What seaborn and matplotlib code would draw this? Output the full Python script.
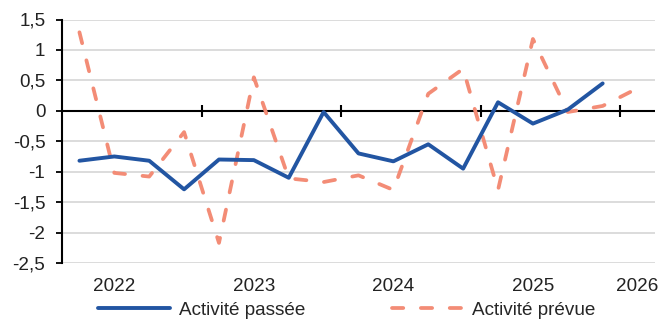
import matplotlib
matplotlib.use("Agg")
import matplotlib.pyplot as plt
import seaborn as sns
import pandas as pd

# Quarterly balances of opinion (Q1 2022 onwards)
quarters = list(range(17))
activite_passee = [-0.82, -0.75, -0.82, -1.29, -0.80, -0.81, -1.10, -0.02,
                   -0.70, -0.83, -0.55, -0.95, 0.14, -0.21, 0.02, 0.45, None]
activite_prevue = [1.29, -1.02, -1.08, -0.35, -2.17, 0.55, -1.11, -1.17,
                   -1.06, -1.30, 0.28, 0.69, -1.30, 1.18, -0.02, 0.08, 0.37]

year_labels = ["2022", "2023", "2024", "2025", "2026"]
year_label_pos = [1, 5, 9, 13, 16]
year_boundaries = [3.5, 7.5, 11.5, 15.5]

y_ticks = [1.5, 1, 0.5, 0, -0.5, -1, -1.5, -2, -2.5]
y_tick_labels = ["1,5", "1", "0,5", "0", "-0,5", "-1", "-1,5", "-2", "-2,5"]

label_passee = "Activité passée"
label_prevue = "Activité prévue"

blue = "#2255A2"
salmon = "#F38C76"

df = pd.DataFrame({"q": quarters, "passee": activite_passee, "prevue": activite_prevue})

sns.set_theme(style="white")
plt.rcParams["font.family"] = ["Liberation Sans", "DejaVu Sans"]
fs = 13.6

fig = plt.figure(figsize=(6.59, 3.2), dpi=100)
ax = fig.add_axes([62 / 659, 1 - 263 / 320, (655 - 62) / 659, (263 - 19.5) / 320])

# horizontal gridlines
for yv in y_ticks:
    if yv != 0:
        ax.axhline(yv, color="#D9D9D9", lw=1.3, zorder=0)
ax.axhline(0, color="black", lw=1.5, zorder=1)
ax.plot(year_boundaries, [0] * len(year_boundaries), ls="none", marker="|",
        ms=9, mew=1.5, color="black", zorder=1)

sns.lineplot(data=df, x="q", y="prevue", ax=ax, color=salmon, lw=2.7,
             label=label_prevue, zorder=3)
ax.lines[-1].set_dashes([3, 4.7])
ax.lines[-1].set_dash_capstyle("round")
sns.lineplot(data=df.dropna(), x="q", y="passee", ax=ax, color=blue, lw=2.8,
             label=label_passee, zorder=4)

ax.set_xlim(-0.5, 16.5)
ax.set_ylim(-2.5, 1.5)
ax.set_yticks(y_ticks)
ax.set_yticklabels(y_tick_labels, fontsize=fs, color="#222222")
ax.set_xticks(year_label_pos)
ax.set_xticklabels(year_labels, fontsize=fs, color="#222222")
ax.tick_params(axis="x", length=0, pad=11)
ax.tick_params(axis="y", length=4, width=1.3, color="black", pad=8, left=True)
ax.set_xlabel("")
ax.set_ylabel("")
for side in ["top", "right", "bottom"]:
    ax.spines[side].set_visible(False)
ax.spines["left"].set_color("black")
ax.spines["left"].set_linewidth(1.5)

handles, labels = ax.get_legend_handles_labels()
ax.get_legend().remove()
order = [labels.index(label_passee), labels.index(label_prevue)]
fig.legend([handles[i] for i in order], [labels[i] for i in order],
           loc="center", bbox_to_anchor=(347 / 659, 1 - 310 / 320), ncol=2,
           frameon=False, fontsize=fs, handlelength=3.8, handletextpad=0.45,
           columnspacing=4.6, borderaxespad=0, borderpad=0)

fig.savefig("out.png", dpi=100)
